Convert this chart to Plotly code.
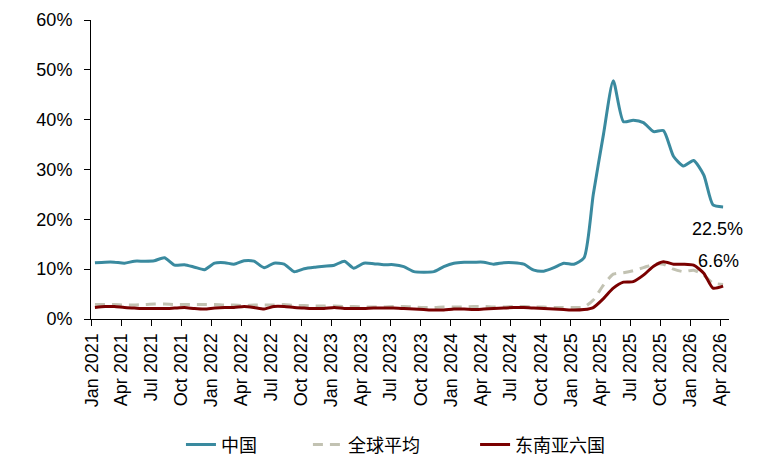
import pandas as pd
import plotly.graph_objects as go

# monthly data, Jan 2021 - Apr 2026
months = pd.date_range("2021-01-01", periods=64, freq="MS") + pd.Timedelta(days=9)

china = [11.3, 11.4, 11.4, 11.2, 11.6, 11.6, 11.7, 12.3, 10.8, 10.9, 10.4, 9.9,
         11.2, 11.3, 11.0, 11.7, 11.6, 10.3, 11.2, 11.0, 9.5, 10.1, 10.4, 10.6,
         10.8, 11.6, 10.2, 11.2, 11.1, 10.9, 10.9, 10.5, 9.5, 9.4, 9.5, 10.5,
         11.2, 11.4, 11.4, 11.4, 11.0, 11.3, 11.3, 11.0, 9.8, 9.6, 10.3, 11.2,
         11.0, 12.3, 25.0, 37.0, 47.8, 39.6, 39.9, 39.4, 37.6, 37.8, 32.6, 30.7,
         31.8, 28.9, 22.9, 22.5]

world_avg = [2.9, 2.9, 2.9, 2.8, 2.8, 2.9, 3.0, 3.0, 2.9, 2.9, 2.9, 2.9,
             2.9, 2.8, 2.8, 2.7, 2.8, 2.8, 2.8, 2.9, 2.7, 2.7, 2.6, 2.6,
             2.6, 2.5, 2.5, 2.4, 2.4, 2.4, 2.5, 2.5, 2.4, 2.3, 2.3, 2.4,
             2.4, 2.4, 2.5, 2.5, 2.4, 2.4, 2.5, 2.5, 2.4, 2.4, 2.3, 2.3,
             2.3, 2.4, 3.8, 6.8, 9.0, 9.3, 9.7, 10.3, 11.0, 11.0, 10.0, 9.5,
             9.8, 8.8, 7.2, 6.9]

sea6 = [2.3, 2.5, 2.5, 2.3, 2.2, 2.1, 2.1, 2.1, 2.2, 2.3, 2.1, 2.0,
        2.2, 2.3, 2.3, 2.5, 2.3, 2.0, 2.5, 2.5, 2.3, 2.2, 2.1, 2.1,
        2.3, 2.1, 2.1, 2.1, 2.2, 2.2, 2.2, 2.1, 2.0, 1.9, 1.8, 1.8,
        2.0, 2.0, 1.9, 2.0, 2.1, 2.2, 2.3, 2.3, 2.2, 2.1, 2.0, 1.9,
        1.8, 1.9, 2.3, 4.1, 6.2, 7.4, 7.5, 8.8, 10.6, 11.5, 11.0, 11.0,
        10.8, 9.2, 6.2, 6.6]

font = "Arial, Liberation Sans, Noto Sans CJK SC, sans-serif"

fig = go.Figure()
fig.add_trace(go.Scatter(x=months, y=china, name="中国", mode="lines", legend="legend",
                         line=dict(color="#3A8A9F", width=3, shape="spline", smoothing=0.6)))
fig.add_trace(go.Scatter(x=months, y=world_avg, name="全球平均", mode="lines", legend="legend2",
                         line=dict(color="#C2C2B2", width=3, dash="10px,7px",
                                   shape="spline", smoothing=0.6)))
fig.add_trace(go.Scatter(x=months, y=sea6, name="东南亚六国", mode="lines", legend="legend3",
                         line=dict(color="#7A0000", width=3, shape="spline", smoothing=0.6)))

# end-of-series labels
fig.add_annotation(x=months[-1], y=china[-1], text=f"{china[-1]}%", showarrow=False,
                   xanchor="center", yanchor="top", xshift=-6, yshift=-10,
                   font=dict(size=18, color="black", family=font))
fig.add_annotation(x=months[-1], y=sea6[-1], text=f"{sea6[-1]}%", showarrow=False,
                   xanchor="center", yanchor="bottom", xshift=-5, yshift=13,
                   font=dict(size=18, color="black", family=font))

leg = dict(orientation="h", yref="container", y=0.044, yanchor="middle", xanchor="left",
           font=dict(size=18), bgcolor="rgba(0,0,0,0)")

fig.update_layout(
    width=742, height=457,
    margin=dict(l=83, r=21, t=12, b=146, autoexpand=False),
    paper_bgcolor="white", plot_bgcolor="white",
    font=dict(family=font, size=18, color="black"),
    showlegend=True,
    legend=dict(leg, x=0.141),
    legend2=dict(leg, x=0.340),
    legend3=dict(leg, x=0.602),
)
fig.update_xaxes(
    range=["2020-12-29", "2026-04-28"],
    tickformat="%b %Y", dtick="M3", tick0="2021-01-01", tickangle=-90,
    showgrid=False, zeroline=False,
    showline=True, linecolor="black", linewidth=1,
    ticks="outside", ticklen=6, tickcolor="black",
    tickfont=dict(size=18),
)
fig.update_yaxes(
    range=[0, 60], dtick=10, ticksuffix="%",
    showgrid=False, zeroline=False,
    showline=True, linecolor="black", linewidth=1,
    ticks="outside", ticklen=6, tickcolor="black",
    ticklabelstandoff=8,
    tickfont=dict(size=18),
)

fig.write_html("out.html")
